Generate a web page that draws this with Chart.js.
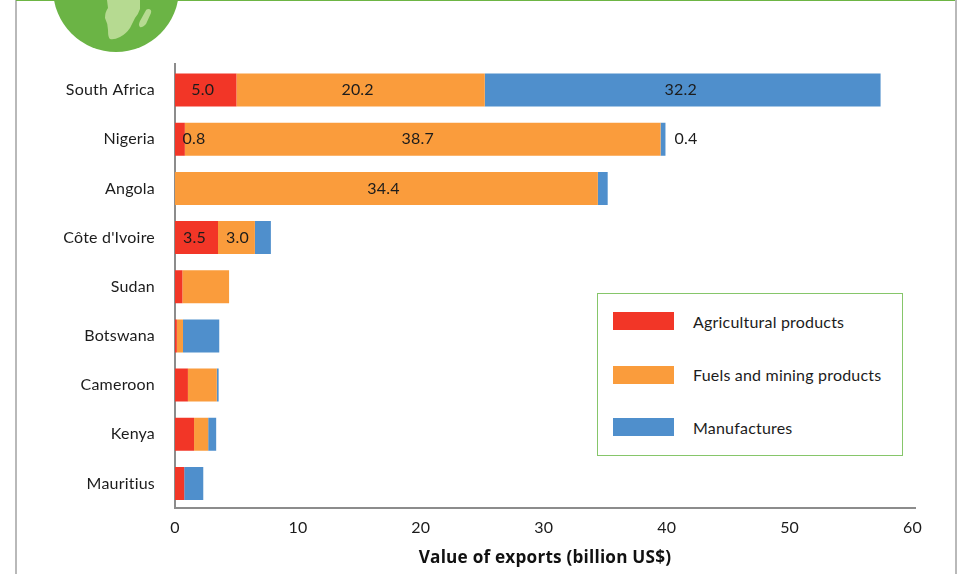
<!DOCTYPE html>
<html>
<head>
<meta charset="utf-8">
<title>Value of exports by country</title>
<script src="https://cdn.jsdelivr.net/npm/chart.js@4/dist/chart.umd.min.js"></script>
<style>
  html, body { margin: 0; padding: 0; background: #fff; }
  #page { position: relative; width: 957px; height: 574px; overflow: hidden; font-family: Lato, sans-serif; color: #1c1c1c; }
  #frameLeft, #frameRight { position: absolute; top: 0; bottom: 0; width: 2px; background: #b9b9b9; }
  #frameLeft { left: 15px; }
  #frameRight { left: 955px; }
  #frameTop { position: absolute; top: 0; left: 16px; width: 939px; height: 1px; background: #6db544; }
  #axisCap { position: absolute; left: 174px; top: 63px; width: 2px; height: 4px; background: #8c8c8c; }
  #globe { position: absolute; left: 0; top: 0; }
  canvas { position: absolute; left: 0; top: 0; }
  #legend { position: absolute; left: 597px; top: 293px; width: 304px; height: 161px; border: 1.5px solid #86c66a; background: #fff; }
  #legend .swatch { position: absolute; left: 15px; width: 61px; height: 18px; }
  #legend .name { position: absolute; left: 95px; font-size: 16px; letter-spacing: 0.2px; line-height: 18px; white-space: nowrap; }
</style>
</head>
<body>
<div id="page">
  <div id="frameLeft"></div>
  <div id="frameRight"></div>
  <div id="frameTop"></div>
  <div id="axisCap"></div>
  <svg id="globe" width="200" height="60" viewBox="0 0 200 60">
    <circle cx="116" cy="-11" r="63" fill="#6bb445"/>
    <path fill="#b6da91" d="M107 0 L140 0 L140 9 Q138 15 135 18 L130 28 Q126 34 120 37 Q114 40 110 39 Q108 38 108 30 Q108 24 105 18 Q105 12 108 8 Z"/>
    <path fill="#b6da91" d="M148 9 Q152 9 151 13 L146 24 Q142 28 140 27 Q138 25 140 21 L145 12 Q146 9 148 9 Z"/>
  </svg>
  <canvas id="chart" width="957" height="574"></canvas>
  <div id="legend"></div>
</div>
<script>
const categories = ["South Africa", "Nigeria", "Angola", "Côte d'Ivoire", "Sudan", "Botswana", "Cameroon", "Kenya", "Mauritius"];
const agricultural = [5.0, 0.8, 0, 3.5, 0.6, 0.15, 1.05, 1.55, 0.75];
const fuels = [20.2, 38.7, 34.4, 3.0, 3.8, 0.5, 2.35, 1.15, 0];
const manufactures = [32.2, 0.4, 0.8, 1.3, 0, 2.95, 0.15, 0.65, 1.55];
const seriesNames = ["Agricultural products", "Fuels and mining products", "Manufactures"];
const seriesColors = ["#f23627", "#fa9c3c", "#4f8fcc"];
const xTicks = [0, 10, 20, 30, 40, 50, 60];
const xTitle = "Value of exports (billion US$)";

// Which segments carry a printed value: [series, category]
const labelled = [[0, 0], [1, 0], [2, 0], [0, 1], [1, 1], [2, 1], [1, 2], [0, 3], [1, 3]];
// Hand nudges (px) for labels that do not sit at their segment's centre
const nudges = { "0,0": -3, "1,0": -3, "2,0": -2, "0,1": 14, "1,1": -5, "2,1": 23, "1,2": -3, "0,3": -2, "1,3": 1 };

const fontFamily = "Lato, sans-serif";

// A little tracking on all canvas text; it also keeps Lato's "ti" ligature out of the labels
const textTracking = {
  id: "textTracking",
  beforeDraw(chart) { chart.ctx.letterSpacing = "0.2px"; }
};

const valueLabels = {
  id: "valueLabels",
  afterDatasetsDraw(chart) {
    const ctx = chart.ctx;
    ctx.save();
    ctx.font = "16px " + fontFamily;
    ctx.fillStyle = "#1c1c1c";
    ctx.textAlign = "center";
    ctx.textBaseline = "middle";
    labelled.forEach(([s, c]) => {
      const bar = chart.getDatasetMeta(s).data[c];
      const value = chart.data.datasets[s].data[c];
      const dx = nudges[s + "," + c] || 0;
      ctx.fillText(value.toFixed(1), (bar.base + bar.x) / 2 + dx, bar.y);
    });
    ctx.restore();
  }
};

new Chart(document.getElementById("chart"), {
  type: "bar",
  data: {
    labels: categories,
    datasets: [agricultural, fuels, manufactures].map((data, i) => ({
      label: seriesNames[i],
      data,
      backgroundColor: seriesColors[i],
      borderWidth: 0,
      categoryPercentage: 1,
      barPercentage: 0.67
    }))
  },
  options: {
    indexAxis: "y",
    responsive: false,
    animation: false,
    events: [],
    layout: { padding: { top: 65.5, right: 42, left: 0, bottom: 0 } },
    plugins: { legend: { display: false }, tooltip: { enabled: false }, title: { display: false } },
    scales: {
      x: {
        stacked: true,
        min: 0,
        max: 60.2,
        afterFit(scale) { scale.height = 66; },
        afterBuildTicks(scale) { scale.ticks = xTicks.map(value => ({ value })); },
        grid: { display: false, drawTicks: false },
        border: { display: true, color: "#8c8c8c", width: 2 },
        ticks: { color: "#1c1c1c", font: { family: fontFamily, size: 16 }, padding: 10, maxRotation: 0, autoSkip: false },
        title: { display: true, text: xTitle, color: "#111", font: { family: "'Open Sans', sans-serif", size: 17.2, weight: "bold" }, padding: { top: 6, bottom: 6 } }
      },
      y: {
        stacked: true,
        afterFit(scale) { scale.width = 175; },
        grid: { display: false, drawTicks: false },
        border: { display: true, color: "#8c8c8c", width: 2 },
        ticks: { color: "#1c1c1c", font: { family: fontFamily, size: 16 }, padding: 20, autoSkip: false }
      }
    }
  },
  plugins: [textTracking, valueLabels]
});

// Legend panel inside the plot's lower right
const legend = document.getElementById("legend");
const rowTops = [18, 72, 124];
const textTops = [19, 72, 125];
seriesNames.forEach((name, i) => {
  const swatch = document.createElement("div");
  swatch.className = "swatch";
  swatch.style.top = rowTops[i] + "px";
  swatch.style.background = seriesColors[i];
  const text = document.createElement("div");
  text.className = "name";
  text.style.top = textTops[i] + "px";
  text.textContent = name;
  legend.append(swatch, text);
});
</script>
</body>
</html>
